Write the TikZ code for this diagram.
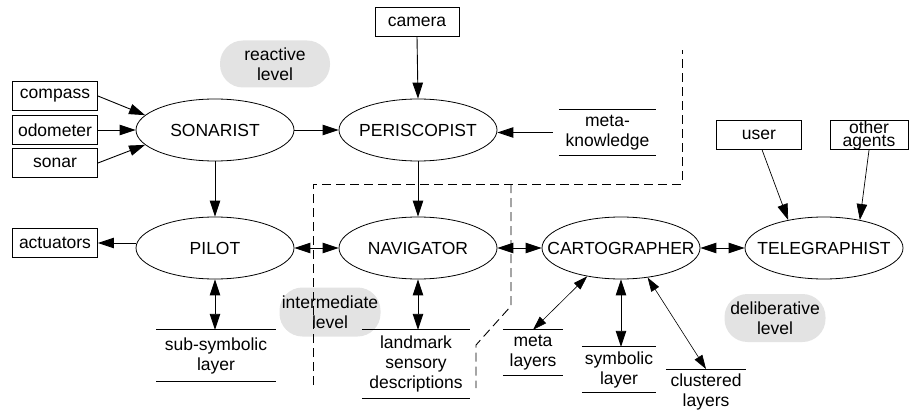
\documentclass[tikz,border=0pt]{standalone}
\usepackage{fontspec}
\setmainfont{Liberation Sans}
\usetikzlibrary{arrows.meta,shapes.geometric}
\begin{document}
\begin{tikzpicture}[x=1pt,y=-1pt,
  font=\fontsize{17.5pt}{20pt}\selectfont,
  agent/.style={ellipse,draw,line width=0.8pt,minimum width=158pt,minimum height=62pt,inner sep=0pt},
  device/.style={rectangle,draw,line width=0.9pt,minimum width=85pt,minimum height=28.5pt,inner sep=0pt},
  store/.style={rectangle,inner sep=0pt,align=center},
  rule/.style={line width=0.9pt},
  blob/.style={fill=black!11,rounded corners=23pt,minimum width=110pt,minimum height=47pt,inner sep=0pt,align=center},
  flow/.style={line width=0.9pt,-{Triangle[length=16pt,width=10.5pt]}},
  thinflow/.style={line width=0.7pt,-{Triangle[length=16pt,width=10.5pt]}},
  both/.style={line width=0.9pt,{Triangle[length=16pt,width=10.5pt]}-{Triangle[length=16pt,width=10.5pt]}},
  thinboth/.style={line width=0.6pt,{Triangle[length=14pt,width=9pt]}-{Triangle[length=14pt,width=9pt]}},
  bound/.style={line width=0.9pt,dash pattern=on 9pt off 5pt}
]
\useasboundingbox (0,0) rectangle (909,414);

% level labels in the background
\node[blob] (react) at (275,64) {reactive\\level};
\node[blob,minimum width=101pt,minimum height=49pt] (inter) at (330,312) {intermediate\\level};
\node[blob,minimum width=101pt,minimum height=48pt] (delib) at (775,318) {deliberative\\level};

% boundaries between the levels
\draw[bound] (313,385) -- (313,184) -- (682,184) -- (682,50);
\draw[bound] (511,184) -- (511,306) -- (476,345) -- (476,388);

% agents
\node[agent] (son)   at (215,130) {\makebox[0pt]{SONARIST}};
\node[agent] (peri)  at (418,130) {\makebox[0pt]{PERISCOPIST}};
\node[agent] (pilot) at (215,248) {\makebox[0pt]{PILOT}};
\node[agent] (nav)   at (418,248) {\makebox[0pt]{NAVIGATOR}};
\node[agent] (cart)  at (621,248) {\makebox[0pt]{CARTOGRAPHER}};
\node[agent] (tel)   at (824,248) {\makebox[0pt]{TELEGRAPHIST}};

% devices
\node[device] (compass)  at (55,96)  {compass};
\node[device] (odometer) at (55,130) {odometer};
\node[device] (sonar)    at (55,163) {sonar};
\node[device] (act)      at (55,243) {actuators};
\node[device,minimum width=84pt] (cam) at (417,22) {camera};
\node[device] (user)     at (759,135) {user};
\node[device,minimum width=78pt,font=\fontsize{17.5pt}{13pt}\selectfont,align=center] (other) at (869,135) {other\\agents};

% knowledge stores
\node[store,minimum width=97pt,minimum height=45pt]  (mk)   at (607.5,132.5) {meta-\\knowledge};
\node[store,minimum width=119pt,minimum height=51pt] (subs) at (216,355.5) {sub-symbolic\\layer};
\node[store,minimum width=108pt,minimum height=68pt] (lm)   at (416,364) {landmark\\sensory\\descriptions};
\node[store,minimum width=60pt,minimum height=45pt]  (ml)   at (533,352.5) {meta\\layers};
\node[store,minimum width=74pt,minimum height=45pt]  (sym)  at (619,369.5) {symbolic\\layer};
\node[store,minimum width=80pt,minimum height=45pt,anchor=north] (cl) at (706,369) {clustered\\layers};

\foreach \n in {mk,subs,lm,ml,sym}
  \draw[rule] (\n.north west) -- (\n.north east) (\n.south west) -- (\n.south east);
\draw[rule] (cl.north west) -- (cl.north east);

% connectors
\draw[flow] (compass.east) -- (son.168);
\draw[flow] (odometer.east) -- (son.west);
\draw[flow] (sonar.east) -- (son.192);
\draw[flow] (son.east) -- (peri.west);
\draw[flow] (cam.south) -- (peri.north);
\draw[flow] ([xshift=-6pt]mk.west) -- (mk.west -| peri.east);
\draw[flow] (son.south) -- (pilot.north);
\draw[flow] (peri.south) -- (nav.north);
\draw[flow] (pilot.west |- act.east) -- (act.east);
\draw[both] (pilot.east) -- (nav.west);
\draw[both] (nav.east) -- (cart.west);
\draw[both] (cart.east) -- (tel.west);
\draw[both] (pilot.south) -- (pilot.south |- subs.north);
\draw[both] (nav.south) -- (nav.south |- lm.north);
\draw[both] (cart.south) -- (cart.south |- sym.north);
\draw[thinboth] (cart.220) -- (ml.north);
\draw[thinboth] (cart.312) -- (cl.north);
\draw[thinflow] ([xshift=3pt]user.south) -- (tel.142);
\draw[thinflow] (other.south) -- (tel.38);
\end{tikzpicture}
\end{document}
